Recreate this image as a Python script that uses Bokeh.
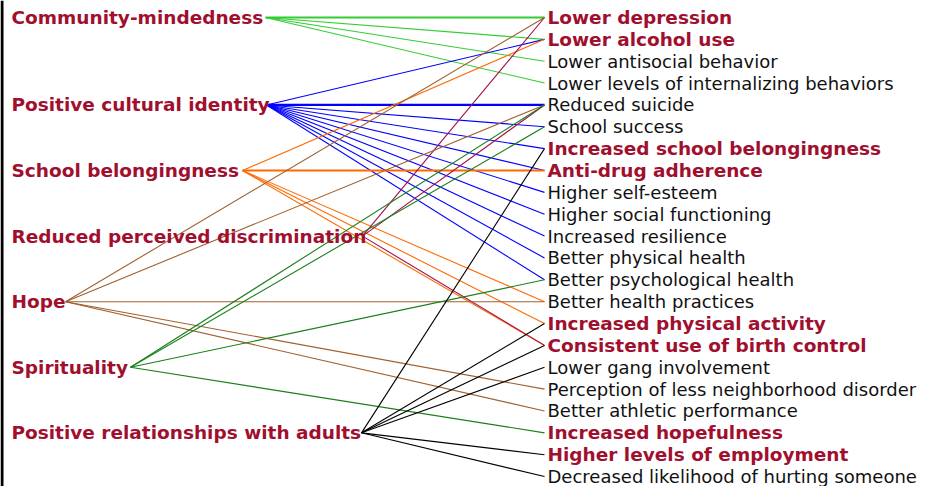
from bokeh.plotting import figure
from bokeh.models import Range1d, ColumnDataSource, Span
from bokeh.core.properties import value
from bokeh.embed import file_html
from bokeh.resources import INLINE

# ---- data ----
left_nodes = ["Community-mindedness", "Positive cultural identity", "School belongingness",
              "Reduced perceived discrimination", "Hope", "Spirituality",
              "Positive relationships with adults"]
left_rows = [0, 4, 7, 10, 13, 16, 19]
left_label_end = [265, 266, 242, 362, 65, 130, 361]
left_colors = ["#33cc33", "#0000ff", "#ff6a00", "#a0124a", "#a0602d", "#1a7f1a", "#000000"]

right_nodes = ["Lower depression", "Lower alcohol use", "Lower antisocial behavior",
               "Lower levels of internalizing behaviors", "Reduced suicide", "School success",
               "Increased school belongingness", "Anti-drug adherence", "Higher self-esteem",
               "Higher social functioning", "Increased resilience", "Better physical health",
               "Better psychological health", "Better health practices",
               "Increased physical activity", "Consistent use of birth control",
               "Lower gang involvement", "Perception of less neighborhood disorder",
               "Better athletic performance", "Increased hopefulness",
               "Higher levels of employment", "Decreased likelihood of hurting someone"]
right_highlight = [1, 1, 0, 0, 0, 0, 1, 1, 0, 0, 0, 0, 0, 0, 1, 1, 0, 0, 0, 1, 1, 0]

link_source = [0, 0, 0, 0,
               1, 1, 1, 1, 1, 1, 1, 1, 1, 1,
               2, 2, 2, 2, 2,
               3, 3, 3,
               4, 4, 4, 4, 4,
               5, 5, 5, 5,
               6, 6, 6, 6, 6, 6]
link_target = [0, 1, 2, 3,
               1, 4, 5, 6, 7, 8, 9, 10, 11, 12,
               1, 7, 13, 14, 15,
               0, 4, 15,
               0, 4, 13, 17, 18,
               4, 5, 12, 19,
               6, 14, 15, 16, 20, 21]
link_strong = [1, 0, 0, 0,
               0, 1, 0, 0, 0, 0, 0, 0, 0, 0,
               0, 1, 0, 0, 0,
               0, 0, 0,
               0, 0, 0, 0, 0,
               0, 0, 0, 0,
               0, 0, 0, 0, 0, 0]

# ---- build ----
LABEL_RED = "#a10f2f"
FONT = "DejaVu Sans"
W, H = 917, 486
ROW0, PITCH = 17.0, 21.86   # pixel position of row 0 and row pitch
RIGHT_X = 544
RIGHT_LABEL_X = 547
LEFT_LABEL_X = 11

p = figure(width=W, height=H, output_backend="svg", toolbar_location=None,
           x_range=Range1d(0, W),
           y_range=Range1d((H - ROW0) / PITCH, -ROW0 / PITCH),
           min_border=0, outline_line_color=None)
p.axis.visible = False
p.grid.visible = False
p.background_fill_color = "white"

x0 = [left_label_end[s] for s in link_source]
y0 = [left_rows[s] for s in link_source]
x1 = [RIGHT_X] * len(link_target)
y1 = [float(t) for t in link_target]
col = [left_colors[s] for s in link_source]
lw = [2.2 if s else 1.1 for s in link_strong]
p.segment(x0=x0, y0=y0, x1=x1, y1=y1, line_color=col, line_width=lw)

left_src = ColumnDataSource(dict(x=[LEFT_LABEL_X] * len(left_nodes), y=left_rows, t=left_nodes))
p.text(x="x", y="y", text="t", source=left_src, text_font=value(FONT),
       text_font_style="bold", text_font_size="18.5px", text_color=LABEL_RED,
       text_baseline="middle", text_align="left")

rb = [i for i, h in enumerate(right_highlight) if h]
rn = [i for i, h in enumerate(right_highlight) if not h]
p.text(x=[RIGHT_LABEL_X] * len(rb), y=rb, text=[right_nodes[i] for i in rb],
       text_font=value(FONT), text_font_style="bold", text_font_size="18.5px",
       text_color=LABEL_RED, text_baseline="middle", text_align="left")
p.text(x=[RIGHT_LABEL_X] * len(rn), y=rn, text=[right_nodes[i] for i in rn],
       text_font=value(FONT), text_font_size="18px",
       text_color="#111111", text_baseline="middle", text_align="left")

p.add_layout(Span(location=1.5, dimension="height", line_color="black", line_width=3))

open("out.html", "w").write(file_html(p, INLINE))
